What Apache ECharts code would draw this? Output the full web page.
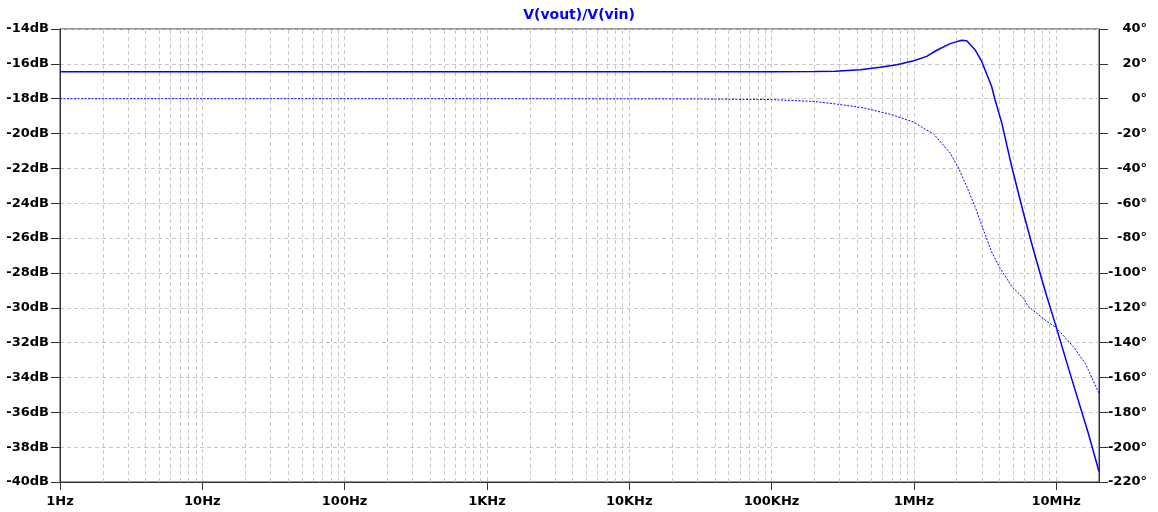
<!DOCTYPE html>
<html>
<head>
<meta charset="utf-8">
<script src="https://cdn.jsdelivr.net/npm/echarts@6/dist/echarts.min.js"></script>
<style>
  html, body { margin: 0; padding: 0; background: #ffffff; }
  #chart { width: 1158px; height: 512px; }
</style>
</head>
<body>
<div id="chart"></div>
<script>
// Bode plot of V(vout)/V(vin): magnitude (dB, left axis) and phase (degrees, right axis)

const xTickLabels = ['1Hz', '10Hz', '100Hz', '1KHz', '10KHz', '100KHz', '1MHz', '10MHz'];

// Magnitude trace
const magFreqs = [1, 10, 100, 1e3, 1e4, 1e5, 2e5, 2.8e5, 4.2e5, 5.8e5, 7.6e5, 1e6, 1.23e6, 1.45e6,
  1.8e6, 2.17e6, 2.35e6, 2.69e6, 3.0e6, 3.52e6, 3.72e6, 4.15e6, 4.87e6, 5.89e6, 6.92e6,
  7.94e6, 8.6e6, 9.82e6, 1.25e7, 1.68e7, 2e7];
const magDb = [-16.45, -16.45, -16.45, -16.45, -16.45, -16.45, -16.44, -16.42, -16.34, -16.2, -16.05,
  -15.82, -15.57, -15.22, -14.84, -14.65, -14.67, -15.19, -15.86, -17.3, -18.06, -19.4, -21.89,
  -24.56, -26.67, -28.39, -29.35, -30.88, -33.75, -37.19, -39.4];

// Phase trace
const phaseFreqs = [1, 10, 100, 1e3, 1e4, 3e4, 1e5, 2e5, 2.8e5, 4.4e5, 7e5, 1e6, 1.2e6, 1.37e6,
  1.8e6, 2.06e6, 2.35e6, 2.69e6, 3.08e6, 3.52e6, 4.03e6, 4.87e6, 5.89e6, 6.38e6, 8.36e6,
  1.01e7, 1.32e7, 1.6e7, 2e7];
const phaseDeg = [0, 0, 0, 0, -0.1, -0.15, -0.5, -1.6, -3.0, -5.2, -9.2, -13.5, -17.5, -20,
  -31.2, -39.8, -50.4, -61.9, -75.2, -88, -97.2, -107.8, -114.5, -119.3, -127,
  -131.7, -142.3, -151.8, -169];

const FREQ_MIN = 1, FREQ_MAX = 2e7;
const DB_MIN = -40, DB_MAX = -14, DB_STEP = 2;
const DEG_MIN = -220, DEG_MAX = 40, DEG_STEP = 20;

const FONT = '"DejaVu Sans", Verdana, sans-serif';
const TRACE = '#0000ff';
const FRAME = '#333333';
const GRID = '#c8c8c8';

// Minor frequency positions (2..9 per decade) for dashed grid lines and short ticks
const minorFreqs = [];
for (let d = 0; d < 8; d++) {
  for (let m = 2; m <= 9; m++) {
    const f = m * Math.pow(10, d);
    if (f < FREQ_MAX) minorFreqs.push(f);
  }
}

const gridLineStyle = { type: [4, 3], color: GRID, width: 1 };
const markData = [];
minorFreqs.forEach(f => {
  markData.push({ xAxis: f, lineStyle: gridLineStyle });
  markData.push([
    { coord: [f, DB_MIN], lineStyle: { type: 'solid', color: FRAME, width: 1 } },
    { coord: [f, DB_MIN - 0.18] }
  ]);
});

const labelStyle = { color: '#000', fontFamily: FONT, fontWeight: 'bold', fontSize: 13 };

const option = {
  animation: false,
  backgroundColor: '#ffffff',
  title: {
    text: 'V(vout)/V(vin)',
    left: 'center',
    top: 8,
    padding: 0,
    textStyle: { color: TRACE, fontFamily: FONT, fontWeight: 'bold', fontSize: 14 }
  },
  grid: {
    left: 60, right: 59, top: 29, bottom: 30,
    show: true, borderColor: FRAME, borderWidth: 1, backgroundColor: 'transparent'
  },
  xAxis: {
    type: 'log',
    logBase: 10,
    min: FREQ_MIN,
    max: FREQ_MAX,
    axisLine: { show: true, onZero: false, lineStyle: { color: FRAME, width: 1 } },
    axisTick: { show: true, inside: false, length: 8, lineStyle: { color: FRAME } },
    axisLabel: {
      ...labelStyle,
      margin: 13,
      showMaxLabel: false,
      formatter: v => {
        const e = Math.log10(v);
        const i = Math.round(e);
        return Math.abs(e - i) < 1e-6 && xTickLabels[i] ? xTickLabels[i] : '';
      }
    },
    splitLine: { show: true, lineStyle: gridLineStyle }
  },
  yAxis: [
    {
      type: 'value',
      position: 'left',
      min: DB_MIN, max: DB_MAX, interval: DB_STEP,
      axisLine: { show: true, onZero: false, lineStyle: { color: FRAME, width: 1 } },
      axisTick: { show: true, length: 9, lineStyle: { color: FRAME } },
      axisLabel: { ...labelStyle, margin: 11, formatter: v => v + 'dB' },
      splitLine: { show: true, lineStyle: gridLineStyle }
    },
    {
      type: 'value',
      position: 'right',
      min: DEG_MIN, max: DEG_MAX, interval: DEG_STEP,
      axisLine: { show: true, onZero: false, lineStyle: { color: FRAME, width: 1 } },
      axisTick: { show: true, length: 9, lineStyle: { color: FRAME } },
      axisLabel: { ...labelStyle, margin: 48, align: 'right', formatter: v => v + '°' },
      splitLine: { show: false }
    }
  ],
  series: [
    {
      name: 'magnitude',
      type: 'line',
      yAxisIndex: 0,
      data: magFreqs.map((f, i) => [f, magDb[i]]),
      showSymbol: false,
      symbol: 'none',
      smooth: false,
      lineStyle: { color: TRACE, width: 1.5 },
      z: 3,
      markLine: {
        silent: true,
        symbol: 'none',
        label: { show: false },
        animation: false,
        z: 1,
        data: markData
      }
    },
    {
      name: 'phase',
      type: 'line',
      yAxisIndex: 1,
      data: phaseFreqs.map((f, i) => [f, phaseDeg[i]]),
      showSymbol: false,
      symbol: 'none',
      smooth: false,
      lineStyle: { color: TRACE, width: 1, type: [2, 1.5] },
      z: 3
    }
  ]
};

const chart = echarts.init(document.getElementById('chart'), null, { renderer: 'canvas' });
chart.setOption(option);
</script>
</body>
</html>
